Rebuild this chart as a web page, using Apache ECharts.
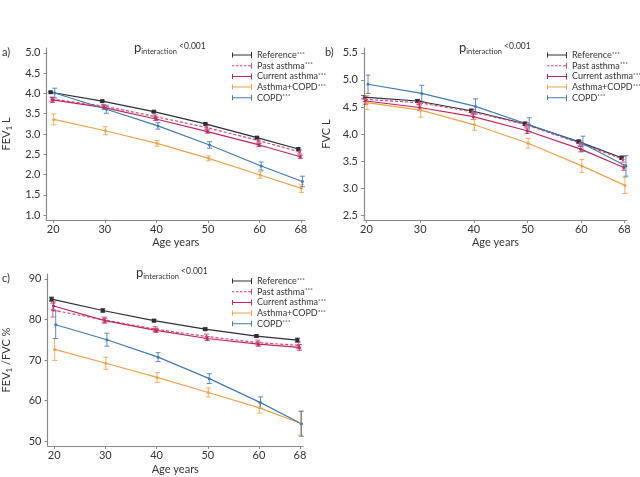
<!DOCTYPE html>
<html>
<head>
<meta charset="utf-8">
<script src="https://cdn.jsdelivr.net/npm/echarts@6/dist/echarts.min.js"></script>
<style>html,body{margin:0;padding:0;background:#fff}#c{width:640px;height:477px}</style>
</head>
<body>
<div id="c"></div>
<script>
// ---- data ----
const ages = [20, 30, 40, 50, 60, 68];
const groups = ['Reference***', 'Past asthma***', 'Current asthma***', 'Asthma+COPD***', 'COPD***'];
const dodge = [-0.5, -0.25, -0.1, 0.1, 0.3];
const colors = ['#2e2e38', '#d6467a', '#c2255a', '#f0a24a', '#3f7bb6'];

// a) FEV1 L
const fev1Reference = [4.03, 3.81, 3.55, 3.25, 2.91, 2.63];
const fev1Past = [3.86, 3.69, 3.43, 3.16, 2.84, 2.56];
const fev1Current = [3.84, 3.65, 3.37, 3.06, 2.73, 2.44];
const fev1AsthmaCopd = [3.36, 3.08, 2.77, 2.40, 1.99, 1.66];
const fev1Copd = [4.01, 3.61, 3.20, 2.73, 2.21, 1.83];
const fev1RefErr = [0.02, 0.02, 0.02, 0.02, 0.02, 0.03];
const fev1PastErr = [0.05, 0.04, 0.04, 0.04, 0.04, 0.05];
const fev1CurrentErr = [0.06, 0.04, 0.04, 0.04, 0.04, 0.04];
const fev1AsthmaCopdErr = [0.135, 0.1, 0.07, 0.06, 0.08, 0.1];
const fev1CopdErr = [0.12, 0.1, 0.08, 0.08, 0.1, 0.13];

// b) FVC L
const fvcReference = [4.68, 4.61, 4.43, 4.19, 3.86, 3.56];
const fvcPast = [4.64, 4.58, 4.41, 4.17, 3.83, 3.53];
const fvcCurrent = [4.61, 4.49, 4.32, 4.06, 3.72, 3.38];
const fvcAsthmaCopd = [4.58, 4.44, 4.17, 3.83, 3.41, 3.05];
const fvcCopd = [4.92, 4.75, 4.51, 4.17, 3.82, 3.41];
const fvcRefErr = [0.03, 0.03, 0.03, 0.03, 0.03, 0.03];
const fvcPastErr = [0.04, 0.04, 0.04, 0.04, 0.04, 0.05];
const fvcCurrentErr = [0.06, 0.05, 0.05, 0.05, 0.05, 0.05];
const fvcAsthmaCopdErr = [0.13, 0.13, 0.1, 0.09, 0.12, 0.15];
const fvcCopdErr = [0.17, 0.15, 0.14, 0.13, 0.14, 0.19];

// c) FEV1/FVC %
const ratioReference = [85.0, 82.2, 79.7, 77.6, 75.9, 74.9];
const ratioPast = [82.3, 79.9, 77.6, 75.8, 74.3, 73.6];
const ratioCurrent = [83.3, 79.7, 77.3, 75.3, 73.9, 73.1];
const ratioAsthmaCopd = [72.6, 69.2, 65.7, 62.0, 58.2, 54.4];
const ratioCopd = [78.7, 75.0, 70.7, 65.4, 59.5, 54.3];
const ratioRefErr = [0.5, 0.4, 0.3, 0.3, 0.3, 0.5];
const ratioPastErr = [1.7, 0.7, 0.6, 0.6, 0.6, 0.8];
const ratioCurrentErr = [1.0, 0.6, 0.5, 0.5, 0.5, 0.7];
const ratioAsthmaCopdErr = [2.7, 1.5, 1.2, 1.1, 1.3, 2.9];
const ratioCopdErr = [3.4, 1.6, 1.1, 1.2, 1.4, 3.1];

const xTicks = [20, 30, 40, 50, 60, 68];
const yTicksA = [1.0, 1.5, 2.0, 2.5, 3.0, 3.5, 4.0, 4.5, 5.0];
const yTicksB = [2.5, 3.0, 3.5, 4.0, 4.5, 5.0, 5.5];
const yTicksC = [50, 60, 70, 80, 90];

// ---- chart ----
const FONT = 'Lato';
const panels = [
  {vals: [fev1Reference, fev1Past, fev1Current, fev1AsthmaCopd, fev1Copd],
   errs: [fev1RefErr, fev1PastErr, fev1CurrentErr, fev1AsthmaCopdErr, fev1CopdErr],
   yTicks: yTicksA, dec: 1, yName: '{n|FEV}{s|1}{n| L}'},
  {vals: [fvcReference, fvcPast, fvcCurrent, fvcAsthmaCopd, fvcCopd],
   errs: [fvcRefErr, fvcPastErr, fvcCurrentErr, fvcAsthmaCopdErr, fvcCopdErr],
   yTicks: yTicksB, dec: 1, yName: '{n|FVC L}'},
  {vals: [ratioReference, ratioPast, ratioCurrent, ratioAsthmaCopd, ratioCopd],
   errs: [ratioRefErr, ratioPastErr, ratioCurrentErr, ratioAsthmaCopdErr, ratioCopdErr],
   yTicks: yTicksC, dec: 0, yName: '{n|FEV}{s|1}{n| /FVC %}'}
];
const grids = [
  {left: 40, top: 48, width: 265, height: 172},
  {left: 364, top: 48, width: 263, height: 172},
  {left: 40, top: 274, width: 263, height: 172}
];
const xRanges = [[18.7, 68.8], [19.55, 68.5], [18.7, 68.6]];
const yRanges = [[0.88, 5.12], [2.41, 5.59], [48.8, 91.2]];
const nameGaps = [33, 32, 34];

const axisCol = '#8a8a8a';
const txtCol = '#333';
const richName = {n: {fontSize: 11, color: txtCol, fontFamily: FONT}, s: {fontSize: 8, color: txtCol, fontFamily: FONT, padding: [6, 0, 0, 0]}};

const xAxis = [], yAxis = [], series = [];
panels.forEach((p, gi) => {
  xAxis.push({
    type: 'value', gridIndex: gi, min: xRanges[gi][0], max: xRanges[gi][1],
    name: 'Age years', nameLocation: 'middle', nameGap: gi === 2 ? 18 : 17,
    nameTextStyle: {fontSize: 11, color: txtCol, fontFamily: FONT},
    axisLine: {lineStyle: {color: axisCol, width: 1.2}},
    axisTick: {customValues: xTicks, length: 3, lineStyle: {color: axisCol}},
    axisLabel: {customValues: xTicks, margin: 4, fontSize: 11, color: txtCol, fontFamily: FONT},
    splitLine: {show: false}
  });
  yAxis.push({
    type: 'value', gridIndex: gi, min: yRanges[gi][0], max: yRanges[gi][1],
    name: p.yName, nameLocation: 'middle', nameGap: nameGaps[gi], nameRotate: 90,
    nameTextStyle: {rich: richName},
    axisLine: {show: true, lineStyle: {color: axisCol, width: 1.2}},
    axisTick: {show: true, customValues: p.yTicks, length: 3, lineStyle: {color: axisCol}},
    axisLabel: {customValues: p.yTicks, margin: 6, fontSize: 11, color: txtCol, fontFamily: FONT,
      formatter: v => Number(v).toFixed(p.dec)},
    splitLine: {show: false}
  });
  groups.forEach((g, si) => {
    const pts = ages.map((a, i) => [a + dodge[si], p.vals[si][i]]);
    const eb = ages.map((a, i) => [a + dodge[si], p.vals[si][i] - p.errs[si][i], p.vals[si][i] + p.errs[si][i]]);
    series.push({
      type: 'custom', name: g, xAxisIndex: gi, yAxisIndex: gi,
      itemStyle: {color: colors[si]}, encode: {x: 0, y: [1, 2]}, data: eb, z: 2,
      renderItem: (params, api) => {
        const x = api.value(0), lo = api.value(1), hi = api.value(2);
        const p1 = api.coord([x, lo]), p2 = api.coord([x, hi]);
        const w = 2.5;
        const st = {stroke: colors[si], lineWidth: 1, opacity: 0.85};
        return {type: 'group', children: [
          {type: 'line', shape: {x1: p1[0], y1: p1[1], x2: p2[0], y2: p2[1]}, style: st},
          {type: 'line', shape: {x1: p1[0] - w, y1: p1[1], x2: p1[0] + w, y2: p1[1]}, style: st},
          {type: 'line', shape: {x1: p2[0] - w, y1: p2[1], x2: p2[0] + w, y2: p2[1]}, style: st}
        ]};
      }
    });
    series.push({
      type: 'line', name: g, xAxisIndex: gi, yAxisIndex: gi, data: pts,
      symbol: si === 0 ? 'rect' : 'circle', symbolSize: si === 0 ? 4 : 3,
      itemStyle: {color: colors[si]},
      lineStyle: {color: colors[si], width: 1.2, type: si === 1 ? [3, 2] : 'solid'},
      z: 3, animation: false
    });
  });
});

const iconSolid = 'path://M0,3h20v1h-20z M0,1h1v5h-1z M19,0.5h1v6h-1z';
const iconDash = 'path://M0,3h2.5v1h-2.5z M4,3h2.5v1h-2.5z M8,3h2.5v1h-2.5z M12,3h2.5v1h-2.5z M16,3h4v1h-4z M19,0.5h1v6h-1z';
const legendData = groups.map((g, i) => ({name: g, icon: i === 1 ? iconDash : iconSolid}));
const legendPos = [[232, 50], [547, 50], [232, 276]];
const legend = legendPos.map(lp => ({
  left: lp[0], top: lp[1], orient: 'vertical', data: legendData,
  itemWidth: 20, itemHeight: 7, itemGap: 0.7, selectedMode: false, padding: 0,
  formatter: name => '{n|' + name.replace(/\*+$/, '') + '}{a|***}',
  textStyle: {fontSize: 9, lineHeight: 10, color: txtCol, fontFamily: FONT,
    overflow: 'none', width: 200,
    rich: {
      n: {fontSize: 9, lineHeight: 10, color: txtCol, fontFamily: FONT},
      a: {fontSize: 6.5, lineHeight: 10, color: txtCol, fontFamily: FONT, padding: [0, 0, 3, 0]}
    }}
}));

const titleRich = {
  p: {fontSize: 13, color: txtCol, fontFamily: FONT, fontWeight: 'normal', lineHeight: 16},
  sub: {fontSize: 7.5, color: txtCol, fontFamily: FONT, fontWeight: 'normal', padding: [7, 0, 0, 0]},
  sup: {fontSize: 8.5, color: txtCol, fontFamily: FONT, fontWeight: 'normal', padding: [0, 0, 3, 0]}
};
const titleText = '{p|p}{sub|interaction}{sup| <0.001}';
const titles = [[134, 40], [459, 40], [136, 265]].map(t => ({
  text: titleText, left: t[0], top: t[1], padding: 0,
  textStyle: {fontWeight: 'normal', rich: titleRich}
}));
const labels = [['a)', 2, 47], ['b)', 325, 47], ['c)', 2, 273]].map(l => ({
  text: l[0], left: l[1], top: l[2], padding: 0,
  textStyle: {fontSize: 11, fontWeight: 'normal', color: txtCol, fontFamily: FONT}
}));

const chart = echarts.init(document.getElementById('c'), null, {renderer: 'canvas'});
chart.setOption({
  animation: false,
  backgroundColor: '#fff',
  title: titles.concat(labels),
  legend: legend,
  grid: grids,
  xAxis: xAxis,
  yAxis: yAxis,
  series: series
});
</script>
</body>
</html>
